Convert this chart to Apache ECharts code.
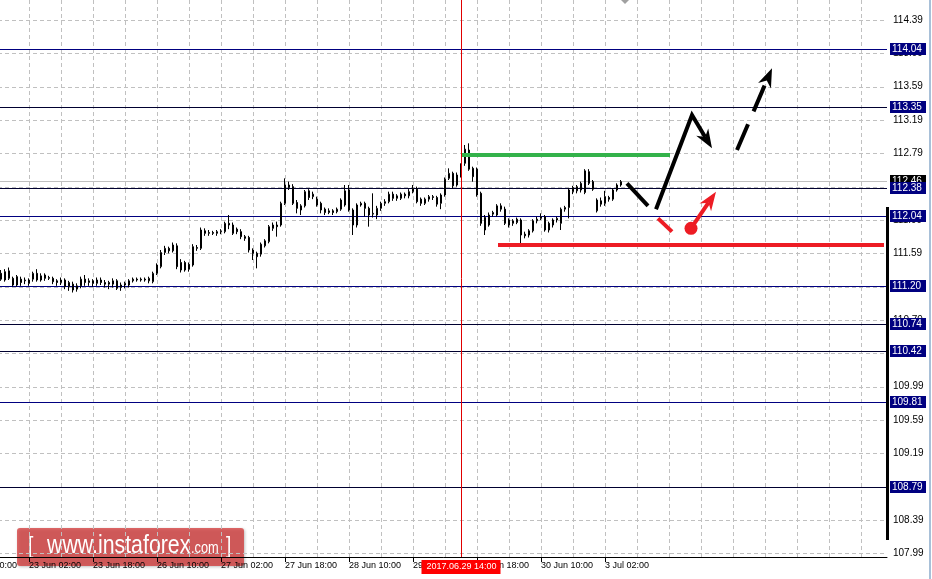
<!DOCTYPE html>
<html>
<head>
<meta charset="utf-8">
<script src="https://cdn.jsdelivr.net/npm/echarts@6/dist/echarts.min.js"></script>
<style>
html,body{margin:0;padding:0;background:#fff;}
#chart{width:932px;height:579px;}
</style>
</head>
<body>
<div id="chart"></div>
<script>
// ---------------- DATA ----------------
const START_TIME = '2017-06-22T10:00:00Z'; // first hourly category (off-screen left)
const CATEGORY_COUNT = 231;                 // hourly slots incl. empty future slots
const FIRST_BAR = 9;                        // category index of first candle

const candleOpen = [
111.35,111.27,111.29,111.29,111.31,111.28,111.26,111.23,111.28,111.35,
111.27,111.33,111.29,111.29,111.26,111.24,111.27,111.19,111.22,111.16,
111.20,111.28,111.24,111.26,111.23,111.27,111.24,111.22,111.22,111.26,
111.18,111.21,111.21,111.26,111.28,111.27,111.28,111.26,111.25,111.35,
111.43,111.60,111.65,111.62,111.68,111.48,111.48,111.40,111.45,111.66,
111.65,111.86,111.83,111.84,111.83,111.85,111.85,111.95,111.93,111.88,
111.85,111.79,111.78,111.63,111.59,111.58,111.68,111.73,111.89,111.93,
111.93,112.19,112.41,112.39,112.20,112.11,112.16,112.34,112.27,112.24,
112.19,112.12,112.08,112.10,112.09,112.12,112.17,112.35,112.11,111.93,
112.17,112.19,112.13,112.06,112.05,112.13,112.19,112.21,112.30,112.25,
112.25,112.30,112.28,112.33,112.36,112.24,112.19,112.24,112.27,112.26,
112.19,112.29,112.49,112.55,112.41,112.53,112.67,112.83,112.61,112.60,
112.31,112.02,111.93,112.06,112.05,112.16,112.12,111.99,111.95,111.96,
111.99,111.82,111.81,111.86,111.98,112.01,112.03,111.95,111.93,111.99,
111.95,112.12,112.14,112.33,112.34,112.35,112.32,112.57,112.45,112.10,
112.22,112.19,112.26,112.24,112.35,112.41];
const candleClose = [
111.28,111.37,111.38,111.21,111.21,111.24,111.27,111.27,111.35,111.27,
111.32,111.29,111.30,111.25,111.24,111.27,111.19,111.24,111.15,111.20,
111.28,111.24,111.26,111.23,111.27,111.24,111.22,111.24,111.26,111.17,
111.21,111.23,111.26,111.28,111.27,111.28,111.27,111.29,111.35,111.45,
111.60,111.65,111.62,111.69,111.43,111.39,111.39,111.46,111.67,111.65,
111.87,111.83,111.84,111.83,111.85,111.86,111.95,111.93,111.83,111.85,
111.79,111.77,111.63,111.59,111.55,111.70,111.74,111.91,111.93,111.91,
112.19,112.41,112.38,112.19,112.13,112.16,112.33,112.26,112.30,112.17,
112.11,112.08,112.10,112.08,112.12,112.23,112.34,112.11,111.93,112.17,
112.19,112.13,112.05,112.07,112.13,112.19,112.21,112.30,112.25,112.28,
112.30,112.28,112.33,112.37,112.21,112.19,112.24,112.27,112.26,112.18,
112.29,112.48,112.55,112.40,112.53,112.65,112.84,112.60,112.51,112.29,
111.95,111.87,112.05,112.08,112.16,112.12,111.95,111.93,111.98,112.00,
111.81,111.80,111.86,111.98,112.00,112.03,111.87,111.87,111.99,112.01,
112.12,112.14,112.35,112.38,112.39,112.43,112.58,112.43,112.36,112.23,
112.18,112.27,112.24,112.35,112.41,112.45];
const candleLow = [
111.26,111.25,111.27,111.19,111.19,111.20,111.22,111.20,111.25,111.25,
111.25,111.26,111.27,111.22,111.20,111.21,111.16,111.14,111.12,111.13,
111.17,111.20,111.20,111.19,111.20,111.21,111.18,111.16,111.18,111.15,
111.14,111.17,111.18,111.24,111.25,111.25,111.25,111.23,111.23,111.33,
111.41,111.57,111.59,111.60,111.40,111.36,111.37,111.37,111.43,111.62,
111.63,111.80,111.80,111.81,111.80,111.82,111.83,111.88,111.81,111.82,
111.76,111.74,111.60,111.51,111.41,111.55,111.66,111.71,111.86,111.79,
111.91,112.17,112.35,112.17,112.07,112.05,112.14,112.23,112.24,112.15,
112.07,112.05,112.06,112.05,112.07,112.10,112.15,112.09,111.81,111.90,
112.15,112.03,111.91,112.02,112.00,112.10,112.16,112.19,112.22,112.22,
112.23,112.25,112.25,112.31,112.19,112.16,112.17,112.21,112.23,112.15,
112.12,112.27,112.47,112.37,112.39,112.50,112.64,112.58,112.45,112.27,
111.92,111.81,111.91,112.03,112.03,112.09,111.93,111.90,111.92,111.94,
111.71,111.77,111.78,111.84,111.95,111.99,111.85,111.84,111.90,111.96,
111.87,112.09,112.01,112.30,112.31,112.32,112.30,112.41,112.34,112.08,
112.15,112.16,112.21,112.22,112.33,112.39];
const candleHigh = [
111.39,111.40,111.42,111.31,111.33,111.31,111.30,111.29,111.37,111.40,
111.35,111.35,111.32,111.31,111.28,111.30,111.29,111.26,111.25,111.23,
111.31,111.33,111.29,111.28,111.30,111.30,111.27,111.26,111.29,111.28,
111.24,111.25,111.28,111.30,111.30,111.30,111.30,111.31,111.37,111.47,
111.63,111.68,111.67,111.72,111.71,111.52,111.50,111.48,111.70,111.69,
111.90,111.89,111.87,111.86,111.87,111.88,111.97,112.05,111.96,111.90,
111.88,111.81,111.80,111.65,111.61,111.72,111.76,111.93,111.96,111.97,
112.21,112.49,112.45,112.42,112.23,112.18,112.35,112.36,112.33,112.27,
112.21,112.14,112.13,112.12,112.14,112.25,112.41,112.41,112.13,112.19,
112.21,112.21,112.15,112.31,112.16,112.21,112.24,112.33,112.33,112.30,
112.32,112.32,112.36,112.41,112.39,112.26,112.26,112.29,112.29,112.28,
112.31,112.50,112.61,112.57,112.56,112.67,112.89,112.91,112.63,112.62,
112.33,112.05,112.08,112.10,112.18,112.19,112.15,112.01,112.00,112.02,
112.01,111.85,111.88,112.00,112.03,112.07,112.05,111.97,112.01,112.03,
112.14,112.16,112.37,112.40,112.41,112.45,112.60,112.60,112.47,112.25,
112.26,112.34,112.28,112.37,112.43,112.47];

const Y_MIN = 107.946, Y_MAX = 114.63;
const yTickValues = [107.99,108.39,108.79,109.19,109.59,109.99,110.39,110.79,111.19,
                     111.59,111.99,112.39,112.79,113.19,113.59,113.99,114.39];
const LABEL_EVERY = 16;   // x labels every 16 hourly bars
const GRID_EVERY = 8;     // vertical grid every 8 bars

const levelsDark = [113.35, 112.38, 110.74, 110.42, 108.79];
const levelsBlue = [114.04, 112.04, 111.20, 109.81];
const currentPrice = 112.46;

const markerIndex = 124;
const markerLabel = '2017.06.29 14:00';

// annotation geometry in (category index, price)
const greenLine   = [[124, 112.77], [176.25, 112.77]];
const redLine     = [[133.25, 111.69], [229.75, 111.69]];
const blackPath1  = [[165.5, 112.43], [170.75, 112.16]];
const blackPath2  = [[172.75, 112.12], [181.75, 113.25], [186.75, 112.85]];
const blackDashed = [[193, 112.83], [201.75, 113.81]];
const redPath     = [[173.25, 112.01], [176.75, 111.85]];
const redDot      = [[181.5, 111.89]];
const redArrow    = [[181.5, 111.89], [187.75, 112.33]];

// ---------------- STYLE ----------------
const FONT_FAMILY = "'Liberation Sans', Arial, sans-serif";
const FONT_Y = "10px " + FONT_FAMILY;
const FONT_X = "9px " + FONT_FAMILY;
const GRID_COLOR = '#c0c0c0';
const LEVEL_STYLE = {
  current: {line: '#c0c0c0', box: '#000000'},
  dark: {line: '#000030', box: '#000080'},
  blue: {line: '#000080', box: '#000080'}
};
const ANNO_STYLE = {
  green:  {color: '#33b24a', width: 4},
  red:    {color: '#ed1c24', width: 4},
  black:  {color: '#000000', width: 4},
  blackArrow: {color: '#000000', width: 4, arrow: true},
  blackDash: {color: '#000000', width: 4, arrow: true, dash: [28, 14]},
  redArrow: {color: '#ed1c24', width: 4, arrow: true},
  redDot: {color: '#ed1c24', r: 6.5}
};

// ---------------- BUILD ----------------
function buildCategories(startIso, count) {
  const MONTHS = ['Jan','Feb','Mar','Apr','May','Jun','Jul','Aug','Sep','Oct','Nov','Dec'];
  const out = [];
  let t = Date.parse(startIso);
  while (out.length < count) {
    const d = new Date(t);
    const wd = d.getUTCDay();
    if (wd !== 0 && wd !== 6) {
      out.push(d.getUTCDate() + ' ' + MONTHS[d.getUTCMonth()] + ' ' +
               String(d.getUTCHours()).padStart(2, '0') + ':00');
    }
    t += 3600000;
  }
  return out;
}
const categories = buildCategories(START_TIME, CATEGORY_COUNT);
const candleData = candleOpen.map((o, i) => [FIRST_BAR + i, o, candleClose[i], candleLow[i], candleHigh[i]]);
const LAST_BAR = FIRST_BAR + candleOpen.length - 1;

const levelItems = [{value: currentPrice, kind: 'current'}]
  .concat(levelsDark.map(v => ({value: v, kind: 'dark'})))
  .concat(levelsBlue.map(v => ({value: v, kind: 'blue'})));

const annoItems = [
  {pts: greenLine, style: 'green'},
  {pts: redLine, style: 'red'},
  {pts: blackPath1, style: 'black'},
  {pts: blackPath2, style: 'blackArrow'},
  {pts: blackDashed, style: 'blackDash'},
  {pts: redPath, style: 'red'},
  {pts: redArrow, style: 'redArrow'},
  {pts: redDot, style: 'redDot', dot: true}
];

const vGridIdx = [];
for (let k = GRID_EVERY; k < CATEGORY_COUNT; k += GRID_EVERY) vGridIdx.push(k);

const crisp = v => Math.round(v) + 0.5;

function renderGrid(params, api) {
  const cs = params.coordSys;
  const children = [];
  const top = cs.y, bottom = cs.y + cs.height, left = cs.x, right = cs.x + cs.width;
  vGridIdx.forEach(k => {
    const x = crisp(api.coord([k + 0.5, Y_MIN])[0]);
    children.push({type: 'line', shape: {x1: x, y1: top, x2: x, y2: bottom},
      style: {stroke: GRID_COLOR, lineWidth: 1, lineDash: [4, 3]}});
  });
  yTickValues.forEach(v => {
    const y = crisp(api.coord([0, v])[1]);
    children.push({type: 'line', shape: {x1: left, y1: y, x2: right, y2: y},
      style: {stroke: GRID_COLOR, lineWidth: 1, lineDash: [4, 3]}});
  });
  return {type: 'group', children};
}

function renderLevel(params, api) {
  const lv = levelItems[params.dataIndex];
  const st = LEVEL_STYLE[lv.kind];
  const cs = params.coordSys;
  const y = crisp(api.coord([0, lv.value])[1]);
  const right = cs.x + cs.width;
  return {type: 'group', children: [
    {type: 'line', shape: {x1: cs.x, y1: y, x2: right, y2: y}, style: {stroke: st.line, lineWidth: 1}},
    {type: 'rect', shape: {x: right + 3, y: y - 6.5, width: 36, height: 12}, style: {fill: st.box}},
    {type: 'text', style: {text: lv.value.toFixed(2), x: right + 5, y: y, fill: '#ffffff',
      font: FONT_Y, align: 'left', verticalAlign: 'middle'}}
  ]};
}

function renderAnno(params, api) {
  const a = annoItems[params.dataIndex];
  const st = ANNO_STYLE[a.style];
  const pts = a.pts.map(p => api.coord([p[0] + 0.5, p[1]]));
  const children = [];
  if (a.dot) {
    children.push({type: 'circle', shape: {cx: pts[0][0], cy: pts[0][1], r: st.r}, style: {fill: st.color}});
    return {type: 'group', children};
  }
  const linePts = pts.slice();
  if (st.arrow) {
    const n = pts.length, tip = pts[n - 1], prev = pts[n - 2];
    const dx = tip[0] - prev[0], dy = tip[1] - prev[1];
    const len = Math.hypot(dx, dy), ux = dx / len, uy = dy / len;
    const L = 19, W = 14;
    const bx = tip[0] - ux * L, by = tip[1] - uy * L;
    const nx = tip[0] - ux * L * 0.7, ny = tip[1] - uy * L * 0.7;
    linePts[n - 1] = [nx, ny];
    children.push({type: 'polygon', shape: {points: [tip, [bx - uy * W / 2, by + ux * W / 2], [nx, ny], [bx + uy * W / 2, by - ux * W / 2]]},
      style: {fill: st.color}});
  }
  children.unshift({type: 'polyline', shape: {points: linePts},
    style: {stroke: st.color, lineWidth: st.width, lineDash: st.dash || null, fill: null}});
  return {type: 'group', children};
}

function renderMarker(params, api) {
  const cs = params.coordSys;
  const x = crisp(api.coord([markerIndex + 0.5, Y_MIN])[0]);
  const bottom = cs.y + cs.height;
  return {type: 'group', children: [
    {type: 'line', shape: {x1: x, y1: cs.y, x2: x, y2: bottom}, style: {stroke: '#e00000', lineWidth: 1}},
    {type: 'rect', shape: {x: x - 40, y: bottom + 3, width: 79, height: 14}, style: {fill: '#ff0000'}},
    {type: 'text', style: {text: markerLabel, x: x, y: bottom + 10, fill: '#ffffff', font: FONT_X,
      align: 'center', verticalAlign: 'middle'}}
  ]};
}

const chart = echarts.init(document.getElementById('chart'), null, {renderer: 'canvas'});
const labelShown = (idx) => idx % LABEL_EVERY === 0 && idx <= LAST_BAR;

const WM_FONT = "'Liberation Sans', Arial, sans-serif";

chart.setOption({
  animation: false,
  backgroundColor: '#ffffff',
  grid: {left: -37, top: 0, width: 924, height: 557, containLabel: false, outerBoundsMode: 'none'},
  xAxis: [{
    type: 'category', data: categories, boundaryGap: true,
    axisLine: {show: true, lineStyle: {color: '#000', width: 1}},
    axisTick: {show: true, alignWithLabel: true, interval: labelShown, length: 5, lineStyle: {color: '#000'}},
    axisLabel: {interval: labelShown, align: 'left', margin: 4, color: '#000', fontSize: 9, fontFamily: FONT_FAMILY},
    splitLine: {show: false}
  }, {
    type: 'value', min: 0, max: CATEGORY_COUNT, show: false
  }],
  yAxis: {
    type: 'value', position: 'right', min: Y_MIN, max: Y_MAX,
    axisLine: {show: true, lineStyle: {color: '#000', width: 1}},
    axisTick: {show: true, length: 4, customValues: yTickValues, lineStyle: {color: '#000'}},
    axisLabel: {customValues: yTickValues, formatter: v => v.toFixed(2), margin: 6, color: '#000',
      fontSize: 10, fontFamily: FONT_FAMILY},
    splitLine: {show: false}
  },
  series: [
    {type: 'custom', xAxisIndex: 1, z: 1, silent: true, data: [[0, 110]], renderItem: renderGrid},
    {type: 'custom', xAxisIndex: 1, z: 2, silent: true, data: levelItems.map(l => [0, l.value]), renderItem: renderLevel},
    {type: 'candlestick', xAxisIndex: 0, z: 3, data: candleData, barWidth: 2,
      encode: {x: 0, y: [1, 2, 3, 4]},
      itemStyle: {color: '#ffffff', color0: '#000000', borderColor: '#000000', borderColor0: '#000000', borderWidth: 1}},
    {type: 'custom', xAxisIndex: 1, z: 5, silent: true,
      data: annoItems.map(a => [a.pts[0][0] + 0.5, a.pts[0][1]]), renderItem: renderAnno},
    {type: 'custom', xAxisIndex: 1, z: 6, silent: true, data: [[markerIndex + 0.5, 110]], renderItem: renderMarker}
  ],
  graphic: [
    {type: 'rect', left: 886, top: 207, shape: {width: 3, height: 333}, style: {fill: '#000'}, z: 10},
    {type: 'rect', left: 929, top: 0, shape: {width: 2, height: 579}, style: {fill: '#a8c0d8'}, z: 10},
    {type: 'polygon', shape: {points: [[621, 0], [629, 0], [625, 4]]}, style: {fill: '#a0a0a0'}, z: 10},
    {type: 'group', z: 20, children: [
      {type: 'rect', shape: {x: 17, y: 528, width: 227, height: 38, r: 3},
        style: {fill: 'rgba(212,48,48,0.72)', shadowBlur: 3, shadowColor: 'rgba(0,0,0,0.35)', shadowOffsetX: 1, shadowOffsetY: 1}},
      {type: 'text', x: 28, y: 546, scaleX: 0.8, style: {text: '[', x: 0, y: 0, fill: '#fff', font: "24px " + WM_FONT, verticalAlign: 'middle'}},
      {type: 'text', x: 47, y: 546, scaleX: 0.82, style: {text: 'www.instaforex', x: 0, y: 0, fill: '#fff', font: "26px " + WM_FONT, verticalAlign: 'middle'}},
      {type: 'text', x: 191, y: 549, scaleX: 0.8, style: {text: '.com', x: 0, y: 0, fill: '#fff', font: "16px " + WM_FONT, verticalAlign: 'middle'}},
      {type: 'text', x: 226, y: 546, scaleX: 0.8, style: {text: ']', x: 0, y: 0, fill: '#fff', font: "24px " + WM_FONT, verticalAlign: 'middle'}}
    ]}
  ]
});
</script>
</body>
</html>
